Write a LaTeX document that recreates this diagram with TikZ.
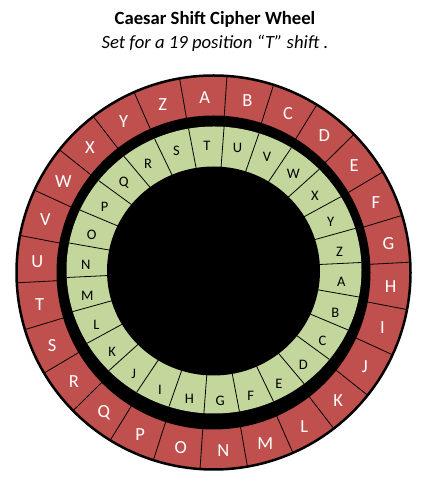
\documentclass[tikz,border=0pt]{standalone}
\usepackage{fontspec}
\setmainfont{Carlito}
\definecolor{ringred}{HTML}{C0504D}
\definecolor{ringgreen}{HTML}{C3D69B}
\begin{document}
\begin{tikzpicture}[x=1pt,y=1pt,
  redletter/.style={text=white, font=\fontsize{18.5}{20}\selectfont, inner sep=0pt},
  greenletter/.style={text=black, font=\fontsize{14.5}{16}\selectfont, inner sep=0pt},
  divider/.style={draw=black, line width=0.8pt}]
\useasboundingbox (0,0) rectangle (427,500);
\coordinate (O) at (213.5,227.5);
\coordinate (G) at (214,230);
\coordinate (GI) at (213.5,229);
\coordinate (RL) at (214,226);
\coordinate (GL) at (213.5,226.5);
\node[font=\bfseries\fontsize{18.67}{22}\selectfont, anchor=base] (title) at (215,475) {Caesar Shift Cipher Wheel};
\node[font=\itshape\fontsize{18.67}{22}\selectfont, anchor=base] (subtitle) at (215,451.7) {Set for a 19 position “T” shift .};
% red outer ring
\fill[ringred] (O) circle (197);
\foreach \i in {0,...,25}{
  \pgfmathsetmacro{\a}{93-(\i+0.5)*360/26}
  \draw[divider] ([shift={(O)}]\a:150) -- ([shift={(O)}]\a:197);
}
\draw[line width=2.5pt] (O) circle (197);
% black band
\fill[black] (O) circle (157);
% green ring
\fill[ringgreen] (G) ellipse [x radius=147.5, y radius=143.5];
\foreach \i in {0,...,25}{
  \pgfmathsetmacro{\a}{93-(\i+0.5)*360/26}
  \draw[divider, shift={(G)}] ({100*cos(\a)},{100*sin(\a)}) -- ({147.5*cos(\a)},{143.5*sin(\a)});
}
\fill[black] (GI) ellipse [x radius=106.5, y radius=104.5];
% letters
\foreach \L [count=\i from 0] in {A,B,C,D,E,F,G,H,I,J,K,L,M,N,O,P,Q,R,S,T,U,V,W,X,Y,Z}{
  \pgfmathsetmacro{\ar}{93-\i*360/26}
  \pgfmathsetmacro{\ag}{93-(\i-19)*360/26}
  \node[redletter] (r\i) at ([shift={(RL)}]\ar:177) {\L};
  \node[greenletter] (g\i) at ([shift={(GL)}]\ag:128) {\L};
}
\end{tikzpicture}
\end{document}
